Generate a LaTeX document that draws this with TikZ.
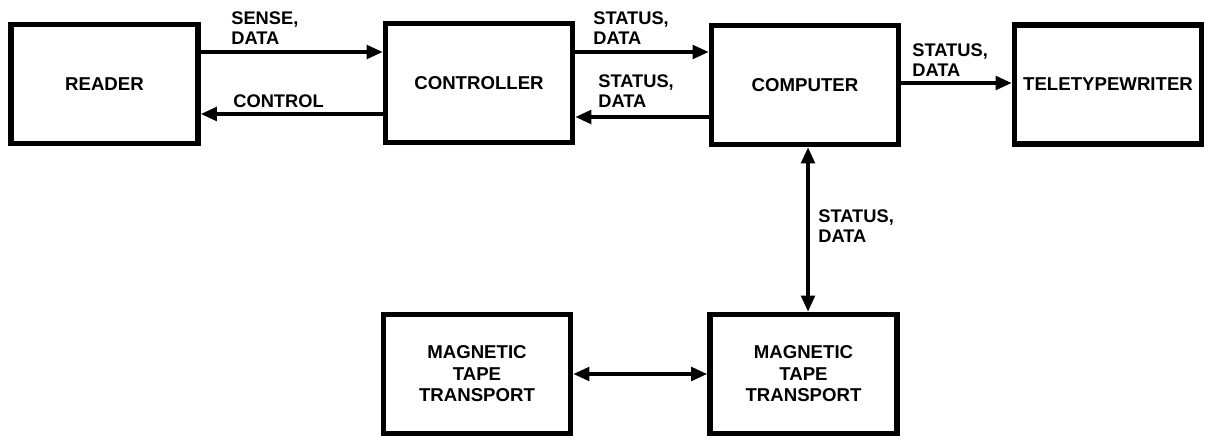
\documentclass[tikz,border=0pt]{standalone}
\usepackage{fontspec}
\setmainfont{Liberation Sans}
\usepackage{tikz}
\usetikzlibrary{arrows.meta}

\begin{document}
\begin{tikzpicture}[x=0.02cm,y=-0.02cm,
  unit/.style={draw,line width=3.2pt,minimum width=3.74cm,minimum height=2.38cm,
    align=center,font=\fontsize{10.6}{12.2}\selectfont\bfseries},
  lbl/.style={anchor=west,align=left,inner sep=0pt,
    font=\fontsize{10.4}{11.3}\selectfont\bfseries},
  arr/.style={line width=2pt,-{Triangle[length=0.32cm,width=0.27cm]}},
  darr/.style={line width=2pt,{Triangle[length=0.32cm,width=0.27cm]}-{Triangle[length=0.32cm,width=0.27cm]}}]
\useasboundingbox (0,0) rectangle (1209,442);
\node[unit] (reader) at (104.5,84) {READER};
\node[unit] (ctrl) at (479,83) {CONTROLLER};
\node[unit] (comp) at (805,85) {COMPUTER};
\node[unit] (tty) at (1108,84.5) {TELETYPEWRITER};
\node[unit] (tape1) at (477,374) {MAGNETIC\\TAPE\\TRANSPORT};
\node[unit] (tape2) at (803.5,374) {MAGNETIC\\TAPE\\TRANSPORT};
\draw[arr] ([yshift=0.64cm]reader.east) -- ([yshift=0.64cm]reader.east -| ctrl.west);
\draw[arr] ([yshift=-0.62cm]ctrl.west) -- ([yshift=-0.62cm]ctrl.west -| reader.east);
\draw[arr] ([yshift=0.62cm]ctrl.east) -- ([yshift=0.62cm]ctrl.east -| comp.west);
\draw[arr] ([yshift=-0.64cm]comp.west) -- ([yshift=-0.64cm]comp.west -| ctrl.east);
\draw[arr] ([yshift=0.04cm]comp.east) -- ([yshift=0.04cm]comp.east -| tty.west);
\draw[darr] ([xshift=0.06cm]comp.south) -- ([xshift=0.06cm]comp.south |- tape2.north);
\draw[darr] (tape1.east) -- (tape2.west);
\node[lbl] (sense) at (231,28.5) {SENSE,\\DATA};
\node[lbl] (control) at (233,101) {CONTROL};
\node[lbl] (up1) at (593,28.5) {STATUS,\\DATA};
\node[lbl] (back1) at (598,91.5) {STATUS,\\DATA};
\node[lbl] (out1) at (912,60) {STATUS,\\DATA};
\node[lbl] (down1) at (818,226) {STATUS,\\DATA};
\end{tikzpicture}
\end{document}
